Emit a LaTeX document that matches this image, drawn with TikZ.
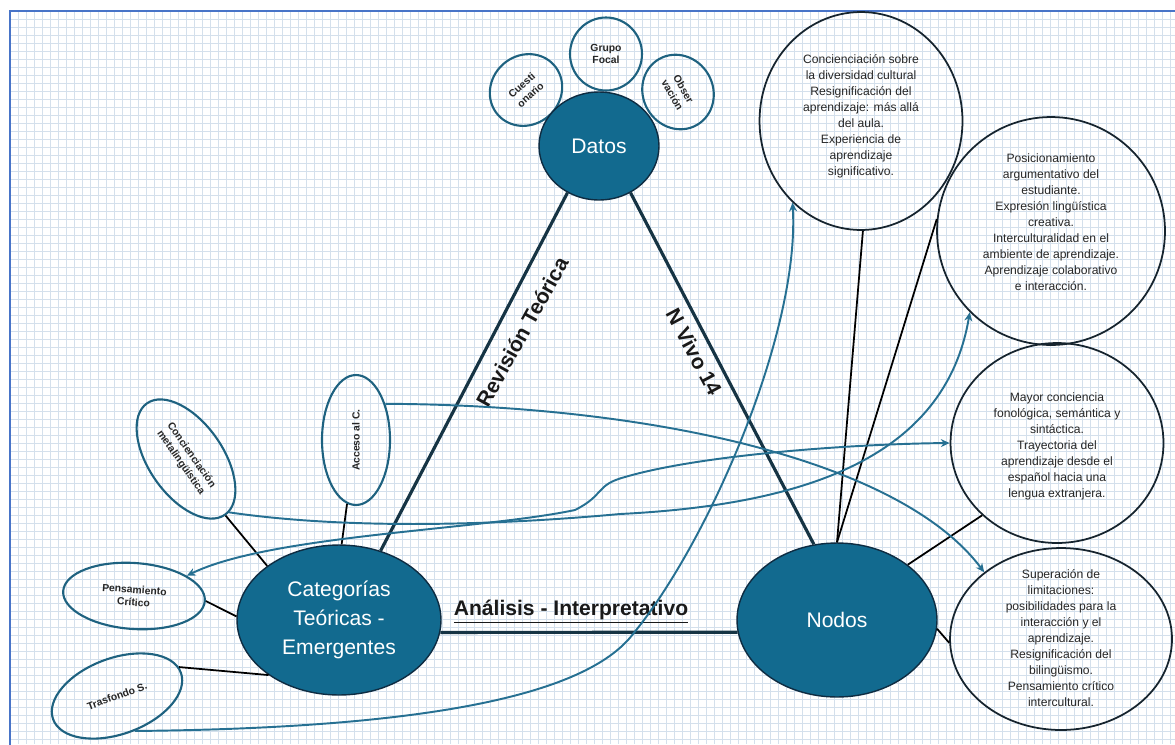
\documentclass[tikz,border=0pt]{standalone}
\usepackage{fontspec}
\setmainfont{Liberation Sans}
\usetikzlibrary{arrows.meta}
\usetikzlibrary{shapes.geometric}
\definecolor{hubfill}{RGB}{18,106,143}
\definecolor{hubline}{RGB}{14,44,66}
\definecolor{satline}{RGB}{30,98,128}
\definecolor{bubline}{RGB}{22,36,46}
\definecolor{triline}{RGB}{22,52,68}
\definecolor{flowline}{RGB}{38,112,146}
\definecolor{gridcol}{RGB}{212,224,236}
\definecolor{framecol}{RGB}{72,116,200}

\tikzset{
  hub/.style={ellipse, fill=hubfill, draw=hubline, line width=0.8pt, text=white,
    font=\fontsize{12}{16.5}\selectfont, align=center, inner sep=0pt},
  sat/.style={ellipse, draw=satline, line width=1.2pt, text=black!85,
    font=\bfseries\fontsize{5.9}{7.3}\selectfont, align=center, inner sep=0pt},
  bubble/.style={ellipse, draw=bubline, line width=1pt, inner sep=0pt},
  bubtxt/.style={align=center, text=black!85, font=\fontsize{6.9}{9.1}\selectfont},
  tri/.style={draw=triline, line width=1.8pt},
  tie/.style={draw=black, line width=1pt},
  flow/.style={draw=flowline, line width=1.1pt, -{Stealth[length=5pt,width=4.5pt]}},
  edgelbl/.style={font=\bfseries\fontsize{12}{14}\selectfont, text=black!90, inner sep=1pt},
}

\begin{document}
\begin{tikzpicture}[x=0.02cm, y=-0.02cm]
\useasboundingbox (0,0) rectangle (1175,744);
\fill[white] (0,0) rectangle (1175,744);

% cuadricula
\foreach \gx in {18,26,...,1175} \draw[gridcol, line width=0.4pt] (\gx,12) -- (\gx,744);
\foreach \gy in {19,27,...,744} \draw[gridcol, line width=0.4pt] (11,\gy) -- (1175,\gy);
\draw[framecol, line width=1.2pt] (10,11) rectangle (1195,765);

% instrumentos
\node[sat, rotate=42, minimum width=1.5cm, minimum height=1.38cm] (cuest) at (526,90) {Cuesti\\onario};
\node[sat, minimum width=1.44cm, minimum height=1.46cm] (grupo) at (606,54) {Grupo\\Focal};
\node[sat, rotate=-60, minimum width=1.52cm, minimum height=1.4cm] (obser) at (678,92) {Obser\\vación};

% categorias
\node[sat, rotate=-55, minimum width=2.72cm, minimum height=1.48cm] (meta) at (186,459) {Concienciación\\metalingüística};
\node[sat, rotate=90, minimum width=2.6cm, minimum height=1.36cm] (acc) at (356,440) {Acceso al C.};
\node[sat, rotate=-4, minimum width=2.84cm, minimum height=1.32cm] (pens) at (134,596) {Pensamiento\\Crítico};
\node[sat, rotate=20, minimum width=2.72cm, minimum height=1.52cm] (tras) at (117,696) {Trasfondo S.};

% nodos
\node[bubble, minimum width=4.06cm, minimum height=4.36cm] (c1) at (861,121) {};
\node[bubtxt] (c1txt) at (861,116) {Concienciación sobre\\la diversidad cultural\\Resignificación del\\aprendizaje: más allá\\del aula.\\Experiencia de\\aprendizaje\\significativo.};
\node[bubble, minimum width=4.56cm, minimum height=4.56cm] (c2) at (1051,231) {};
\node[bubtxt] (c2txt) at (1051,222) {Posicionamiento\\argumentativo del\\estudiante.\\Expresión lingüística\\creativa.\\Interculturalidad en el\\ambiente de aprendizaje.\\Aprendizaje colaborativo\\e interacción.};
\node[bubble, minimum width=4.26cm, minimum height=4.0cm] (c3) at (1057,443) {};
\node[bubtxt] (c3txt) at (1057,446) {Mayor conciencia\\fonológica, semántica y\\sintáctica.\\Trayectoria del\\aprendizaje desde el\\español hacia una\\lengua extranjera.};
\node[bubble, minimum width=4.44cm, minimum height=3.64cm] (c4) at (1061,639) {};
\node[bubtxt] (c4txt) at (1061,638) {Superación de\\limitaciones:\\posibilidades para la\\interacción y el\\aprendizaje.\\Resignificación del\\bilingüismo.\\Pensamiento crítico\\intercultural.};

% triangulo
\node[hub, minimum width=2.4cm, minimum height=2.16cm] (datos) at (599,146) {Datos};
\node[hub, minimum width=4.08cm, minimum height=3.0cm] (cat) at (339,620) {Categorías\\Teóricas -\\Emergentes};
\node[hub, minimum width=4.0cm, minimum height=3.08cm] (nodos) at (837,620) {Nodos};

\draw[tri] (datos.236) -- (cat.59);
\draw[tri] (datos.-56) -- (nodos.107);
\draw[tri] (cat.353) -- (nodos.187);
\node[edgelbl, rotate=61] (revlbl) at (522,332) {Revisión Teórica};
\node[edgelbl, rotate=-62] (nvlbl) at (694,352) {N Vivo 14};
\node[edgelbl] (anlbl) at (571,612) {\underline{Análisis - Interpretativo}};

% enlaces
\draw[tie] (meta.0) -- (cat.143);
\draw[tie] (acc.172) -- (cat.88);
\draw[tie] (pens.0) -- (cat.178);
\draw[tie] (tras.5) -- (cat.218);
\draw[tie] (nodos.90) -- (c1.271);
\draw[tie] (nodos.90) -- (c2.174);
\draw[tie] (nodos.38) -- (c3.224);
\draw[tie] (nodos.-5) -- (c4.182);

% relaciones
\draw[flow] (acc.-39) .. controls (650,405) and (900,460) .. (c4.139);
\draw[flow] (tras.-83) .. controls (450,728) and (590,690) .. (633,634)
  .. controls (710,540) and (800,330) .. (c1.230);
\draw[flow] (meta.4) .. controls (350,530) and (500,525) .. (620,514)
  .. controls (800,505) and (945,460) .. (c2.225);
\draw[flow, {Stealth[length=5pt,width=4.5pt]}-{Stealth[length=5pt,width=4.5pt]}] (pens.25) .. controls (270,535) and (480,530) .. (575,510)
  .. controls (605,495) and (595,485) .. (625,477)
  .. controls (700,455) and (850,444) .. (c3.180);

\end{tikzpicture}
\end{document}
